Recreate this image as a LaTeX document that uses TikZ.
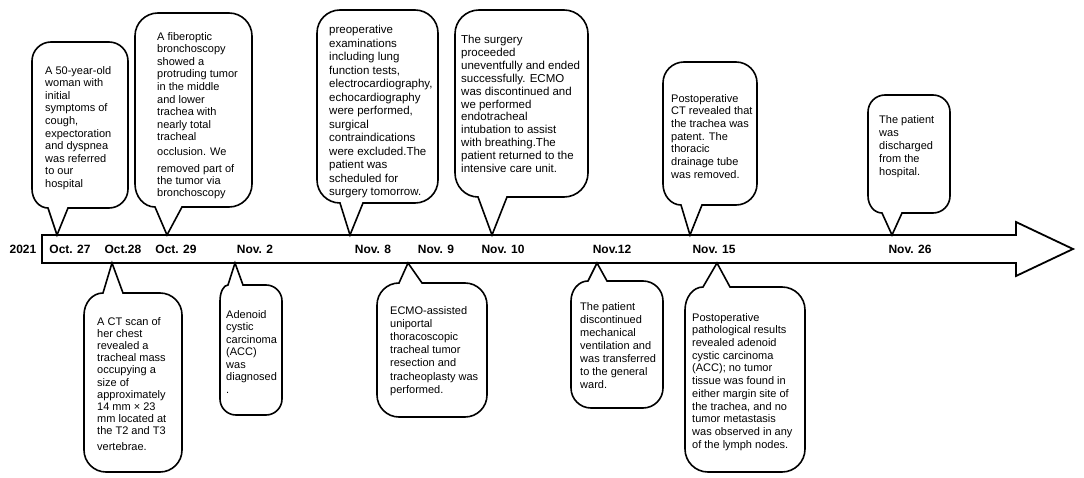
\documentclass[tikz,border=0pt]{standalone}
\usepackage{fontspec}
\setmainfont{Liberation Sans}
\tikzset{
  cbox/.style={draw=black, line width=1.6pt, fill=white},
  arrowbody/.style={draw=black, line width=1.8pt, fill=white},
  btxt/.style={anchor=north west, inner sep=0pt, align=left, font=\fontsize{11}{12.6}\selectfont},
  dlabel/.style={font=\fontsize{12}{14}\selectfont\bfseries, inner sep=0pt},
}
% top callout: L T R B r bL bR tip
\newcommand\topcall[8]{%
  \draw[cbox] (#8) -- (#7,#4) -- ({#3-#5},#4) .. controls ({#3-0.448*#5},#4) and (#3,{#4-0.448*#5}) .. (#3,{#4-#5})
    -- (#3,{#2+#5}) .. controls (#3,{#2+0.448*#5}) and ({#3-0.448*#5},#2) .. ({#3-#5},#2)
    -- ({#1+#5},#2) .. controls ({#1+0.448*#5},#2) and (#1,{#2+0.448*#5}) .. (#1,{#2+#5})
    -- (#1,{#4-#5}) .. controls (#1,{#4-0.448*#5}) and ({#1+0.448*(#6-#1)},#4) .. (#6,#4) -- cycle;}
% bottom callout: L T R B r bL bR tip
\newcommand\botcall[8]{%
  \draw[cbox] (#8) -- (#7,#2) -- ({#3-#5},#2) .. controls ({#3-0.448*#5},#2) and (#3,{#2+0.448*#5}) .. (#3,{#2+#5})
    -- (#3,{#4-#5}) .. controls (#3,{#4-0.448*#5}) and ({#3-0.448*#5},#4) .. ({#3-#5},#4)
    -- ({#1+#5},#4) .. controls ({#1+0.448*#5},#4) and (#1,{#4-0.448*#5}) .. (#1,{#4-#5})
    -- (#1,{#2+#5}) .. controls (#1,{#2+0.448*#5}) and ({#1+0.448*(#6-#1)},#2) .. (#6,#2) -- cycle;}
\begin{document}
\begin{tikzpicture}[x=1pt,y=-1pt]
\useasboundingbox (0,0) rectangle (1084,478);
% timeline arrow
\draw[arrowbody] (42,235) -- (1016,235) -- (1016,222) -- (1073,249) -- (1016,276) -- (1016,263) -- (42,263) -- cycle;
% pointer tips
\coordinate (p1) at (57,235);
\coordinate (p2) at (167,235);
\coordinate (p3) at (350,235);
\coordinate (p4) at (492,235);
\coordinate (p5) at (690,235);
\coordinate (p6) at (892,235);
\coordinate (q7) at (112,263);
\coordinate (q8) at (235,263);
\coordinate (q9) at (408,263);
\coordinate (q10) at (597,263);
\coordinate (q11) at (717,263);
% callouts above
\topcall{32}{42}{128}{208}{19}{48}{68}{p1}
\topcall{135}{13}{252}{207}{23}{155}{182}{p2}
\topcall{317}{10}{438}{203}{23}{340}{363}{p3}
\topcall{455}{10}{588}{197}{24}{478}{507}{p4}
\topcall{663}{62}{757}{205}{21}{681}{702}{p5}
\topcall{868}{95}{950}{213}{17}{882}{902}{p6}
% callouts below
\botcall{84}{293}{182}{472}{22}{103}{123}{q7}
\botcall{220}{285}{282}{415}{16}{228}{243}{q8}
\botcall{377}{283}{487}{417}{22}{399}{422}{q9}
\botcall{571}{281}{663}{408}{20}{588}{607}{q10}
\botcall{685}{287}{805}{472}{23}{703}{730}{q11}
% texts
\node[btxt] (t1) at (45,66) {A 50-year-old\\woman with\\initial\\symptoms of\\cough,\\expectoration\\and dyspnea\\was referred\\to our\\hospital};
\node[btxt] (t2) at (157,32) {A fiberoptic\\bronchoscopy\\showed a\\protruding tumor\\in the middle\\and lower\\trachea with\\nearly total\\tracheal\\[2.4pt]occlusion. We\\[4pt]removed part of\\[-1pt]the tumor via\\bronchoscopy};
\node[btxt, font=\fontsize{11.5}{13.5}\selectfont] (t3) at (329,25) {preoperative\\examinations\\including lung\\function tests,\\electrocardiography,\\echocardiography\\were performed,\\surgical\\contraindications\\were excluded.The\\patient was\\scheduled for\\surgery tomorrow.};
\node[btxt, font=\fontsize{11.5}{12.9}\selectfont] (t4) at (461,35) {The surgery\\proceeded\\uneventfully and ended\\successfully. ECMO\\was discontinued and\\we performed\\endotracheal\\intubation to assist\\with breathing.The\\patient returned to the\\intensive care unit.};
\node[btxt, font=\fontsize{11}{12.7}\selectfont] (t5) at (671,94) {Postoperative\\CT revealed that\\the trachea was\\patent. The\\thoracic\\drainage tube\\was removed.};
\node[btxt, font=\fontsize{11}{13}\selectfont] (t6) at (879,115) {The patient\\was\\discharged\\from the\\hospital.};
\node[btxt, font=\fontsize{11}{12.2}\selectfont] (t7) at (97,317) {A CT scan of\\her chest\\revealed a\\tracheal mass\\occupying a\\size of\\approximately\\14 mm × 23\\mm located at\\the T2 and T3\\[3.5pt]vertebrae.};
\node[btxt, font=\fontsize{11}{12.5}\selectfont] (t8) at (226,310) {Adenoid\\cystic\\carcinoma\\(ACC)\\was\\diagnosed\\.};
\node[btxt, font=\fontsize{11}{13.2}\selectfont] (t9) at (390,306) {ECMO-assisted\\uniportal\\thoracoscopic\\tracheal tumor\\resection and\\tracheoplasty was\\performed.};
\node[btxt, font=\fontsize{11}{13}\selectfont] (t10) at (580,302) {The patient\\discontinued\\mechanical\\ventilation and\\was transferred\\to the general\\ward.};
\node[btxt, font=\fontsize{11}{12.7}\selectfont] (t11) at (692,313) {Postoperative\\pathological results\\revealed adenoid\\cystic carcinoma\\(ACC); no tumor\\tissue was found in\\either margin site of\\the trachea, and no\\tumor metastasis\\was observed in any\\of the lymph nodes.};
% date labels
\node[dlabel] (y21) at (23,249) {2021};
\node[dlabel] (d1) at (70,249) {Oct. 27};
\node[dlabel] (d2) at (123,249) {Oct.28};
\node[dlabel] (d3) at (176,249) {Oct. 29};
\node[dlabel] (d4) at (255,249) {Nov. 2};
\node[dlabel] (d5) at (373,249) {Nov. 8};
\node[dlabel] (d6) at (436,249) {Nov. 9};
\node[dlabel] (d7) at (503,249) {Nov. 10};
\node[dlabel] (d8) at (612,249) {Nov.12};
\node[dlabel] (d9) at (714,249) {Nov. 15};
\node[dlabel] (d10) at (910,249) {Nov. 26};
\end{tikzpicture}
\end{document}
